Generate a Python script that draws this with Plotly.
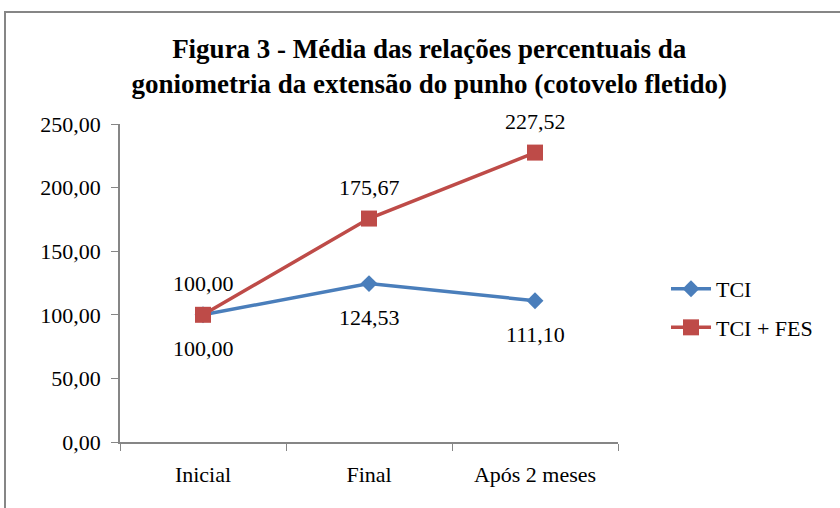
import plotly.graph_objects as go

categories = ["Inicial", "Final", "Após 2 meses"]
tci = [100.00, 124.53, 111.10]
tci_fes = [100.00, 175.67, 227.52]
y_ticks = [0, 50, 100, 150, 200, 250]
y_tick_labels = ["0,00", "50,00", "100,00", "150,00", "200,00", "250,00"]

def fmt(v):
    return f"{v:.2f}".replace(".", ",")

BLUE = "#4A7EBB"
RED = "#BE4B48"
FONT = "Liberation Serif, Times New Roman, serif"
LABEL_SIZE = 22

fig = go.Figure()
fig.add_trace(go.Scatter(
    x=categories, y=tci, name="TCI", mode="lines+markers", legendgroup="tci",
    line=dict(color=BLUE, width=3.5),
    marker=dict(symbol="diamond", size=13, color=BLUE),
))
fig.add_trace(go.Scatter(
    x=categories, y=tci_fes, name="TCI + FES", mode="lines+markers", legendgroup="fes",
    line=dict(color=RED, width=3.5),
    marker=dict(symbol="square", size=16, color=RED),
))

annotations = []
for c, v in zip(categories, tci):
    annotations.append(dict(x=c, y=v, text=fmt(v), showarrow=False, yshift=-34,
                            font=dict(family=FONT, size=LABEL_SIZE, color="black")))
for c, v in zip(categories, tci_fes):
    annotations.append(dict(x=c, y=v, text=fmt(v), showarrow=False, yshift=31,
                            font=dict(family=FONT, size=LABEL_SIZE, color="black")))

W, H = 840, 508
L, R, T, B = 120, 222, 124, 66
pw, ph = W - L - R, H - T - B

fig.add_shape(type="rect", xref="paper", yref="paper",
              x0=(5 - L) / pw, x1=(850 - L) / pw,
              y0=(H - B - 520) / ph, y1=(H - B - 12) / ph,
              line=dict(color="#868686", width=2), layer="below")

fig.update_layout(
    width=W, height=H,
    margin=dict(l=L, r=R, t=T, b=B, autoexpand=False),
    paper_bgcolor="white", plot_bgcolor="white",
    font=dict(family=FONT, color="black"),
    title=dict(
        text="<b>Figura 3 - Média das relações percentuais da<br>goniometria da extensão do punho (cotovelo fletido)</b>",
        x=0.511, xanchor="center", y=0.886, yanchor="middle",
        font=dict(family=FONT, size=27, color="black"),
    ),
    legend=dict(
        x=(666 - L) / pw, xanchor="left", y=0.42, yanchor="middle",
        font=dict(family=FONT, size=LABEL_SIZE, color="black"),
        itemwidth=40, tracegroupgap=7, bgcolor="rgba(0,0,0,0)",
    ),
    annotations=annotations,
    showlegend=True,
)
fig.update_xaxes(
    type="category", showgrid=False, showline=True, linecolor="#868686", linewidth=1.5,
    ticks="outside", tickcolor="#868686", ticklen=7, tickson="boundaries",
    ticklabelstandoff=12, automargin=False,
    tickfont=dict(family=FONT, size=LABEL_SIZE, color="black"), range=[-0.5, 2.5],
)
fig.update_yaxes(
    range=[0, 250], tickvals=y_ticks, ticktext=y_tick_labels,
    showgrid=False, showline=True, linecolor="#868686", linewidth=1.5,
    ticks="outside", tickcolor="#868686", ticklen=7, zeroline=False,
    ticklabelstandoff=6, automargin=False,
    tickfont=dict(family=FONT, size=LABEL_SIZE, color="black"),
)

fig.write_html("out.html", config={"displayModeBar": False},
               post_script="document.body.style.margin='0';")
